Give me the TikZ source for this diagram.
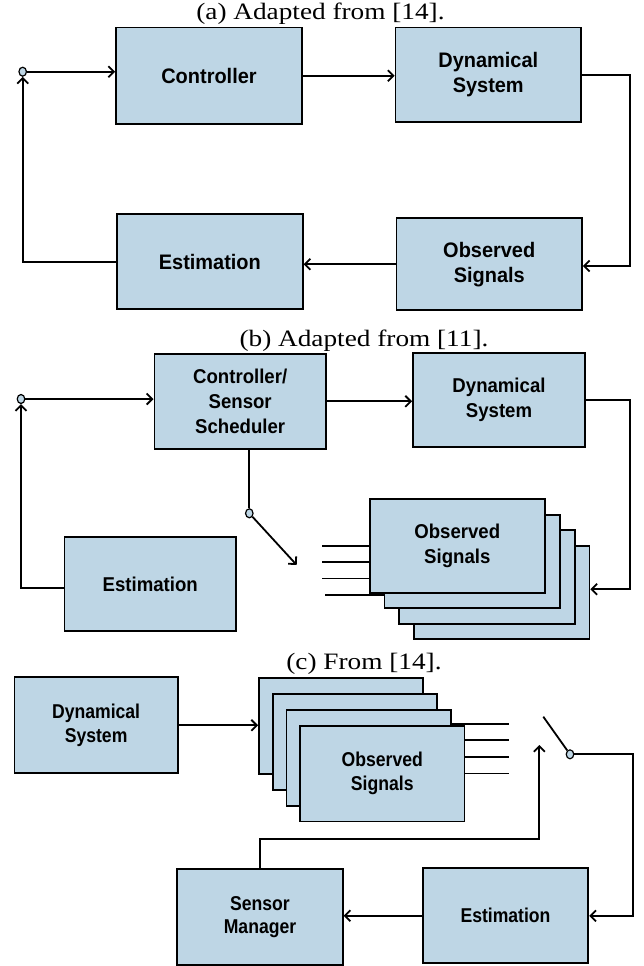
\documentclass[tikz,border=0pt]{standalone}
\usepackage{fontspec}
\newfontfamily\boxfontA[FakeStretch=0.95]{Liberation Sans}
\newfontfamily\boxfontB[FakeStretch=0.93]{Liberation Sans}
\newfontfamily\boxfontC[FakeStretch=0.88]{Liberation Sans}
\newfontfamily\capfont[FakeStretch=1.16]{Liberation Serif}
\usetikzlibrary{arrows.meta,shapes.geometric,calc}
\definecolor{boxblue}{RGB}{190,214,229}
\begin{document}
\begin{tikzpicture}[x=1pt,y=-1pt,
  blk/.style={draw, fill=boxblue, line width=1.8pt, rectangle, inner sep=0pt, align=center},
  fa/.style={font=\boxfontA\bfseries\fontsize{21}{25}\selectfont},
  fb/.style={font=\boxfontB\bfseries\fontsize{20}{25}\selectfont},
  fc/.style={font=\boxfontC\bfseries\fontsize{20}{23.5}\selectfont},
  captxt/.style={anchor=base, inner sep=0pt, font=\capfont\fontsize{23.5}{27}\selectfont},
  sw/.style={ellipse, draw, fill=boxblue, line width=1.2pt, minimum width=7.5pt, minimum height=9pt, inner sep=0pt},
  arr/.style={line width=1.8pt, -{Straight Barb[length=5.5pt,width=11pt]}},
  sig/.style={line width=1.8pt}]
\useasboundingbox (0,0) rectangle (644,966);

% ---------------- (a) ----------------
\node[captxt] (capA) at (320.5,19.5) {(a) Adapted from [14].};
\node[blk, fa, minimum width=186pt, minimum height=96.5pt] (ctrlA) at (209,75.75) {Controller};
\node[blk, fa, minimum width=185.5pt, minimum height=94.5pt] (dynA) at (488.25,74.75) {Dynamical\\System};
\node[blk, fa, minimum width=185.7pt, minimum height=95pt] (estA) at (209.85,261.8) {Estimation};
\node[blk, fa, minimum width=185.5pt, minimum height=91.7pt] (obsA) at (489.25,264.15) {Observed\\Signals};
\node[sw] (circA) at (22.7,71.7) {};

\draw[arr] (circA) -- (circA -| ctrlA.west);
\draw[arr] (ctrlA.east) -- (ctrlA.east -| dynA.west);
\draw[arr] (dynA.east) -- ++(48.3,0) |- ([yshift=-1.85pt]obsA.east);
\draw[arr] (obsA.west) -- (obsA.west -| estA.east);
\draw[arr] (estA.west) -| (circA.south);

% ---------------- (b) ----------------
\node[captxt] (capB) at (364,346) {(b) Adapted from [11].};
\node[blk, fb, minimum width=171.6pt, minimum height=94.7pt] (cssB) at (240.2,401.35) {Controller/\\Sensor\\Scheduler};
\node[blk, fb, minimum width=172pt, minimum height=93.4pt] (dynB) at (499,400) {Dynamical\\System};
\node[blk, fb, minimum width=171.5pt, minimum height=94pt] (estB) at (150.25,584) {Estimation};
\node[blk, fb, minimum width=175.4pt, minimum height=93.4pt] (obsB4) at (501.7,592.5) {};
\node[blk, fb, minimum width=175.4pt, minimum height=93.4pt] (obsB3) at (486.9,577) {};
\node[blk, fb, minimum width=175.4pt, minimum height=93.4pt] (obsB2) at (472.1,561.5) {};
\node[blk, fb, minimum width=175.4pt, minimum height=93.4pt] (obsB1) at (457.3,546) {Observed\\Signals};
\node[sw] (circB) at (21,399) {};
\node[sw] (swB) at (249.3,513.3) {};
\coordinate (tipB) at (296.7,565);

\draw[arr] (circB) -- (circB -| cssB.west);
\draw[arr] (cssB.east) -- (cssB.east -| dynB.west);
\draw[arr] (dynB.east) -- ++(44.3,0) |- ([yshift=3.2pt]obsB4.east);
\draw[arr] ([yshift=-4.3pt]estB.west) -| (circB.south);
\draw[sig] ([xshift=9.1pt]cssB.south) -- (swB);
\draw[arr] (swB) -- (tipB);
\draw[sig] (obsB1.west) -- ++(-46.6,0);
\draw[sig] ([yshift=-16.3pt]obsB1.west) -- ++(-46.6,0);
\draw[sig] ([yshift=-32.5pt]obsB1.west) -- ++(-46.6,0);
\draw[sig] ([yshift=-33.2pt]obsB2.west) -- ++(-58.4,0);

% ---------------- (c) ----------------
\node[captxt] (capC) at (364,669.5) {(c) From [14].};
\node[blk, fc, minimum width=163.4pt, minimum height=96pt] (dynC) at (96.1,725.3) {Dynamical\\System};
\node[blk, fc, minimum width=164.3pt, minimum height=95.7pt] (obsC1) at (341.15,726.15) {};
\node[blk, fc, minimum width=164.3pt, minimum height=95.7pt] (obsC2) at (354.85,741.95) {};
\node[blk, fc, minimum width=164.3pt, minimum height=95.7pt] (obsC3) at (368.55,757.75) {};
\node[blk, fc, minimum width=164.3pt, minimum height=95.7pt] (obsC4) at (382.25,773.55) {Observed\\Signals};
\node[blk, fc, minimum width=165.6pt, minimum height=95pt] (estC) at (505.5,915.8) {Estimation};
\node[blk, fc, minimum width=165.4pt, minimum height=95.7pt] (smC) at (260,917.15) {Sensor\\Manager};
\node[sw] (swC) at (570,754.3) {};
\coordinate (bladeC) at (543.3,716.7);
\coordinate (upC) at (539.3,745);

\draw[arr] (dynC.east) -- (dynC.east -| obsC1.west);
\draw[sig] ([yshift=33.75pt]obsC3.east) -- ++(57.7,0);
\draw[sig] ([yshift=33.5pt]obsC4.east) -- ++(44,0);
\draw[sig] ([yshift=16.8pt]obsC4.east) -- ++(44,0);
\draw[sig] (obsC4.east) -- ++(44,0);
\draw[sig] (swC) -- (bladeC);
\draw[arr] (swC.east) -- ++(59,0) |- (estC.east);
\draw[arr] (estC.west) -- (estC.west -| smC.east);
\draw[arr] (smC.north) -- ++(0,-29.3) -| (upC);
\end{tikzpicture}
\end{document}
